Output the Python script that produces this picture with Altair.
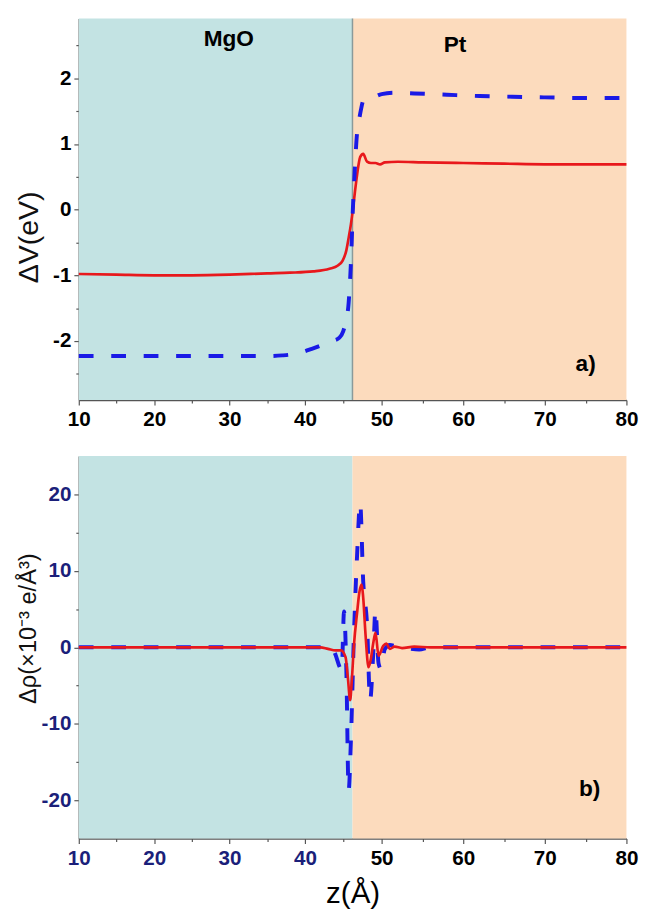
import altair as alt
import pandas as pd

# ---------------- data ----------------
# panel a) potential change
z_top_red = [10, 15, 20, 25, 30, 35, 38, 41.1, 43.2, 44.3, 44.9, 45.4, 45.7, 46.0, 46.25, 46.5, 46.8, 47.2,
             47.6, 48.1, 48.6, 49.2, 49.8, 50.4, 52, 55, 60, 65, 70, 75, 80]
v_top_red = [-0.98, -0.99, -1.0, -1.0, -0.99, -0.97, -0.96, -0.94, -0.9, -0.85, -0.78, -0.62, -0.43, -0.22, 0.0,
             0.25, 0.53, 0.8, 0.85, 0.73, 0.71, 0.71, 0.69, 0.72, 0.73, 0.72, 0.71, 0.70, 0.69, 0.69, 0.69]

z_top_blue = [10, 15, 20, 25, 30, 35, 37, 39, 40.9, 42.5, 43.6, 44.5, 45.0, 45.3, 45.7, 46.0, 46.25, 46.5, 46.8,
              47.0, 47.3, 47.65, 48.3, 48.9, 50.0, 51.5, 54, 58, 62, 66, 70, 75, 80]
v_top_blue = [-2.23, -2.23, -2.23, -2.23, -2.23, -2.23, -2.22, -2.19, -2.12, -2.05, -2.0, -1.95, -1.85, -1.72,
              -1.42, -0.8, 0.0, 0.6, 1.17, 1.32, 1.52, 1.67, 1.69, 1.71, 1.76, 1.78, 1.77, 1.75, 1.73, 1.72, 1.71,
              1.70, 1.70]

# panel b) charge density change
z_bot_red = [10, 20, 30, 40, 42, 43, 44, 44.7, 45.3, 45.6, 45.9, 46.1, 46.4, 46.8, 47.1, 47.4, 47.6, 47.9, 48.3,
             48.6, 48.9, 49.2, 49.6, 50.2, 50.6, 51.0, 51.6, 52.5, 54, 56, 60, 70, 80]
rho_bot_red = [0, 0, 0, 0, 0, -0.2, -0.4, -0.4, -1.3, -4.0, -6.9, -4.5, 0.4, 4.5, 7.2, 8.2, 6.5, 1.7, -2.6,
               -1.5, 0.5, 1.9, -1.1, 0.2, 0.5, -0.2, 0.1, -0.1, 0.1, 0, 0, 0, 0]

z_bot_blue = [10, 20, 30, 40, 42.5, 43.5, 44.0, 44.5, 44.8, 45.1, 45.4, 45.7, 46.0, 46.4, 46.8, 47.2, 47.6, 48.1,
              48.5, 48.9, 49.2, 49.6, 49.9, 50.4, 51.0, 52, 53, 54.6, 56, 60, 70, 80]
rho_bot_blue = [0, 0, 0, 0, 0, 0, -1.0, -2.5, -3.0, 4.7, -3.0, -18.7, -12.0, 2.0, 12.0, 18.9, 8.6, 3.0, -6.9,
                -1.0, 4.9, -2.1, -2.8, -0.2, 0.3, 0.1, -0.1, -0.3, 0.0, 0.0, 0.0, 0.0]

region_start = [10, 46.2]
region_end = [46.2, 80]
region_color = ["#c3e3e3", "#fcdbbd"]
boundary = [46.2]

top_text = ["MgO", "Pt", "a)"]
top_text_x = [29.9, 59.0, 75.0]
top_text_y = [2.6, 2.5, -2.36]
bot_text = ["b)"]
bot_text_x = [75.5]
bot_text_y = [-18.6]

x_ticks = list(range(10, 81, 5))
y_top_ticks = [-2.5, -2, -1.5, -1, -0.5, 0, 0.5, 1, 1.5, 2, 2.5]
y_bot_ticks = [-20, -15, -10, -5, 0, 5, 10, 15, 20]

# ---------------- styling ----------------
W = 557
H1 = 388
H2 = 389
FONT = "Liberation Sans"
NAVY = "#1b1f7a"
RED = "#e8181c"
BLUE = "#1a1ae6"

xscale = alt.Scale(domain=[10, 40, 50, 80], range=[0, 230, 308, 557])

regions = pd.DataFrame({"x0": region_start, "x1": region_end, "c": region_color})
bnd = pd.DataFrame({"x": boundary})


def x_axis(show_title, label_color):
    return alt.Axis(
        values=x_ticks,
        labelExpr="datum.value % 10 == 0 ? '' + datum.value : ''",
        tickSize=alt.expr("datum.value % 10 == 0 ? 5 : 3"),
        title="z(Å)" if show_title else None,
        titleFont=FONT, titleFontSize=30, titleFontWeight="normal", titleColor="black", titlePadding=11,
        labelFont=FONT, labelFontSize=21, labelFontWeight="bold", labelColor=label_color,
        labelFlush=False, labelOverlap=False, labelPadding=4,
        domainColor="#555555", domainWidth=1.5, tickColor="#555555", tickWidth=1.2, grid=False,
    )


def y_axis(title, ticks, label_expr, tick_expr, label_color, title_size, title_y):
    return alt.Axis(
        values=ticks,
        labelExpr=label_expr,
        tickSize=alt.expr(tick_expr),
        title=title,
        titleFont=FONT, titleFontSize=title_size, titleFontWeight="normal", titleColor="#111111",
        titleX=-51, titleY=title_y, titleAlign="center", titleBaseline="middle", titleAngle=270,
        labelFont=FONT, labelFontSize=21, labelFontWeight="bold", labelColor=label_color,
        labelFlush=False, labelOverlap=False, labelPadding=3,
        domainColor="#555555", domainWidth=1.5, tickColor="#555555", tickWidth=1.2, grid=False,
    )


def panel(H, ydomain, yaxis, xaxis, red_df, blue_df, text_df, with_rule, red_on_top):
    yscale = alt.Scale(domain=ydomain, nice=False, zero=False)
    bg = alt.Chart(regions).mark_rect().encode(
        x=alt.X("x0:Q", scale=xscale, axis=xaxis),
        x2="x1:Q",
        y=alt.value(0),
        y2=alt.value(H),
        color=alt.Color("c:N", scale=None, legend=None),
    )
    red = alt.Chart(red_df).mark_line(color=RED, strokeWidth=2.7, interpolate="monotone").encode(
        x=alt.X("z:Q", scale=xscale, axis=xaxis),
        y=alt.Y("v:Q", scale=yscale, axis=yaxis),
    )
    blue = alt.Chart(blue_df).mark_line(color=BLUE, strokeWidth=4, strokeDash=[15, 18],
                                         interpolate="monotone").encode(
        x=alt.X("z:Q", scale=xscale, axis=xaxis),
        y=alt.Y("v:Q", scale=yscale, axis=yaxis),
    )
    txt = alt.Chart(text_df).mark_text(font=FONT, fontSize=23, fontWeight="bold", color="black").encode(
        x=alt.X("x:Q", scale=xscale, axis=xaxis),
        y=alt.Y("y:Q", scale=yscale, axis=yaxis),
        text="t:N",
    )
    layers = [bg]
    if with_rule:
        layers.append(alt.Chart(bnd).mark_rule(color="#8a9a9a", strokeWidth=1.5).encode(
            x=alt.X("x:Q", scale=xscale, axis=xaxis), y=alt.value(0), y2=alt.value(H)))
    layers += [blue, red] if red_on_top else [red, blue]
    layers.append(txt)
    return alt.layer(*layers).properties(width=W, height=H)


top = panel(
    H1, [-2.9, 2.91],
    y_axis("ΔV(eV)", y_top_ticks, "datum.value % 1 == 0 ? '' + datum.value : ''",
           "datum.value % 1 == 0 ? 5 : 3", "black", 29, 222),
    x_axis(False, "black"),
    pd.DataFrame({"z": z_top_red, "v": v_top_red}),
    pd.DataFrame({"z": z_top_blue, "v": v_top_blue}),
    pd.DataFrame({"t": top_text, "x": top_text_x, "y": top_text_y}),
    True, False,
)

bottom = panel(
    H2, [-25, 25],
    y_axis("Δρ(×10⁻³ e/Å³)", y_bot_ticks, "datum.value % 10 == 0 ? '' + datum.value : ''",
           "datum.value % 10 == 0 ? 5 : 3", NAVY, 24, 175),
    x_axis(True, alt.expr("datum.value < 45 ? '%s' : 'black'" % NAVY)),
    pd.DataFrame({"z": z_bot_red, "v": rho_bot_red}),
    pd.DataFrame({"z": z_bot_blue, "v": rho_bot_blue}),
    pd.DataFrame({"t": bot_text, "x": bot_text_x, "y": bot_text_y}),
    False, True,
)

chart = alt.vconcat(top, bottom, spacing=27).properties(
    padding={"left": 7, "top": 2, "right": 14, "bottom": 0},
    background="white",
).configure_view(stroke=None)

chart.save("out.html", embed_options={"renderer": "svg", "actions": False})
